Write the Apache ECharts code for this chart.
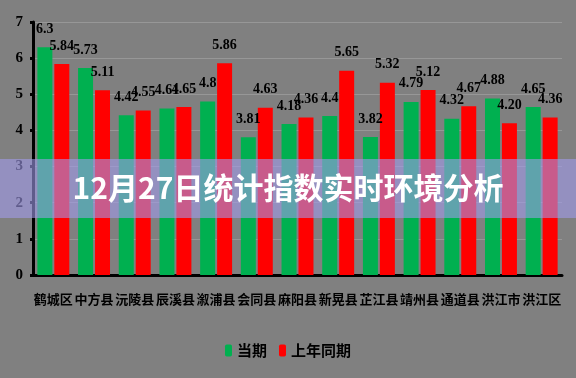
<!DOCTYPE html>
<html>
<head>
<meta charset="utf-8">
<script src="https://cdn.jsdelivr.net/npm/echarts@6/dist/echarts.min.js"></script>
<style>
  html, body { margin: 0; padding: 0; background: #808080; }
  #chart { width: 576px; height: 378px; }
</style>
</head>
<body>
<div id="chart"></div>
<script>
const categories = ["鹤城区", "中方县", "沅陵县", "辰溪县", "溆浦县", "会同县", "麻阳县",
  "新晃县", "芷江县", "靖州县", "通道县", "洪江市", "洪江区"];
const currentValues = [6.3, 5.73, 4.42, 4.61, 4.8, 3.81, 4.18, 4.4, 3.82, 4.79, 4.32, 4.88, 4.65];
const lastYearValues = [5.84, 5.11, 4.55, 4.65, 5.86, 4.63, 4.36, 5.65, 5.32, 5.12, 4.67, 4.2, 4.36];
// value labels as printed on the picture (one keeps its trailing zero)
const lastYearLabels = ["5.84", "5.11", "4.55", "4.65", "5.86", "4.63", "4.36", "5.65", "5.32",
  "5.12", "4.67", "4.20", "4.36"];
const title = "12月27日统计指数实时环境分析";

const labelStyle = {
  show: true,
  position: "top",
  distance: 11,
  color: "#000",
  fontFamily: "Liberation Serif",
  fontWeight: "bold",
  fontSize: 14,
};

const chart = echarts.init(document.getElementById("chart"));
chart.setOption({
  animation: false,
  backgroundColor: "#808080",
  grid: { left: 33, right: 14, top: 22, bottom: 103 },
  legend: {
    bottom: 15,
    left: "center",
    itemWidth: 7,
    itemHeight: 12,
    itemGap: 12,
    textStyle: { color: "#000", fontSize: 15, fontWeight: "bold", fontFamily: "Noto Sans CJK SC" },
    data: ["当期", "上年同期"],
  },
  xAxis: {
    type: "category",
    data: categories,
    axisLine: { lineStyle: { color: "#000", width: 3 } },
    axisTick: { show: false },
    axisLabel: {
      interval: 0,
      margin: 18,
      color: "#000",
      fontSize: 13,
      fontWeight: "bold",
      fontFamily: "Noto Sans CJK SC",
    },
  },
  yAxis: {
    type: "value",
    min: 0,
    max: 7,
    interval: 1,
    axisLine: { show: true, lineStyle: { color: "#000", width: 3 } },
    axisTick: { show: true, length: 3, lineStyle: { color: "#000", width: 3 } },
    axisLabel: {
      margin: 10,
      color: "#000",
      fontSize: 15,
      fontWeight: "bold",
      fontFamily: "Liberation Serif",
    },
    splitLine: { lineStyle: { color: "rgba(255,255,255,0.18)", width: 1 } },
  },
  series: [
    {
      name: "当期",
      type: "bar",
      data: currentValues,
      barWidth: 15,
      barGap: "13%",
      itemStyle: { color: "#00B050" },
      label: labelStyle,
    },
    {
      name: "上年同期",
      type: "bar",
      data: lastYearValues,
      barWidth: 15,
      itemStyle: { color: "#FF0000" },
      label: { ...labelStyle, formatter: (p) => lastYearLabels[p.dataIndex] },
    },
  ],
  graphic: [
    {
      type: "rect",
      z: 100,
      shape: { x: 0, y: 159, width: 576, height: 59 },
      style: { fill: "rgba(162,155,236,0.59)" },
    },
    {
      type: "text",
      z: 101,
      left: "center",
      top: 173,
      style: {
        text: title,
        fill: "#fff",
        fontSize: 30,
        fontWeight: "bold",
        fontFamily: "Noto Sans CJK SC",
      },
    },
  ],
});
</script>
</body>
</html>
